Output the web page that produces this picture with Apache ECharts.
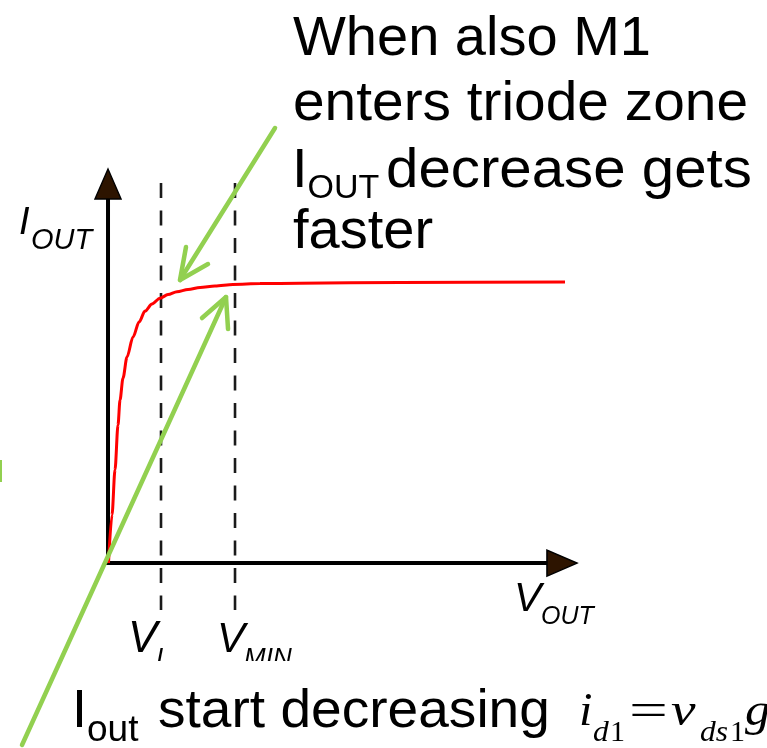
<!DOCTYPE html>
<html><head><meta charset="utf-8">
<script src="https://cdn.jsdelivr.net/npm/echarts@6/dist/echarts.min.js"></script>
<style>html,body{margin:0;padding:0;background:#fff}#c{width:767px;height:748px}</style>
</head><body><div id="c"></div>
<script>
// ---- data (arbitrary units: V_OUT on x, I_OUT on y; origin = axes crossing) ----
const voutExtent = [-2.303, 14.051];
const ioutExtent = [-4.707, 14.326];
const voutAxisLine = [[-0.043, 0], [9.9, 0]];
const ioutAxisLine = [[0, 0], [0, 9.9]];
const axisTipV = [9.680, 0];
const axisTipI = [0, 9.644];
const curveVout = [0.01, 0.085, 0.149, 0.213, 0.256, 0.320, 0.405, 0.533, 0.661, 0.789, 0.938, 1.109, 1.279, 1.471, 1.706, 1.962, 2.281, 2.665, 3.241, 4.094, 6.226, 9.744];
const curveIout = [0, 1.22, 2.37, 3.51, 4.15, 4.71, 5.24, 5.75, 6.13, 6.41, 6.59, 6.74, 6.83, 6.90, 6.96, 7.01, 7.05, 7.09, 7.11, 7.12, 7.14, 7.15];
const markerVout = [1.130, 2.708];          // V_I, V_MIN
const markerIoutSpan = [9.669, -1.196];     // dashed guide extent
const triodeArrowShaft = [[3.561, 11.069], [1.535, 7.201]];
const triodeArrowHead = [[1.663, 8.041], [1.535, 7.201], [2.132, 7.608]];
const startArrowShaft = [[-1.834, -4.631], [2.516, 6.768]];
const startArrowHead = [[2.004, 6.234], [2.516, 6.768], [2.559, 5.954]];
const edgeMark = [[-2.292, 2.621], [-2.292, 2.061]];

const GREEN = '#92d050';
const SANS = 'Liberation Sans';
const SERIF = 'Liberation Serif';

function txt(text, x, baseline, size, o) {
  o = o || {};
  const fam = o.family || SANS;
  const style = (o.italic ? 'italic ' : '') + size + 'px "' + fam + '"';
  return {
    type: 'text', x: x, y: baseline - 0.31 * size, z: o.z || 100,
    scaleX: o.sx || 1, scaleY: 1, silent: true,
    style: { text: text, font: style, fill: '#000', textAlign: 'left',
             verticalAlign: 'middle', textVerticalAlign: 'middle' }
  };
}

const graphics = [
  // top annotation
  txt('When also M1', 293, 57, 56),
  txt('enters triode zone', 293, 122, 56, {sx: 1.015}),
  txt('I', 292, 189, 56),
  txt('OUT', 307.5, 199, 34),
  txt('decrease gets', 386, 189, 56, {sx: 1.04}),
  txt('faster', 293, 250, 56),
  // axis labels
  txt('I', 19, 235, 38, {italic: true}),
  txt('OUT', 31, 250, 29, {italic: true}),
  txt('V', 514, 612, 41, {italic: true}),
  txt('OUT', 541, 625, 25, {italic: true}),
  txt('V', 128, 653, 44, {italic: true, z: 50}),
  txt('I', 156, 667, 26, {italic: true, z: 50}),
  txt('V', 217, 653, 42, {italic: true, z: 50}),
  txt('MIN', 244, 667, 26, {italic: true, z: 50}),
  // white band hiding bottom of labels
  { type: 'rect', z: 60, silent: true, shape: { x: 66, y: 661, width: 701, height: 87 }, style: { fill: '#fff' } },
  // bottom annotation
  txt('I', 72, 729, 54, {z: 110}),
  txt('out', 87, 742, 37, {z: 110}),
  txt('start decreasing', 158, 729, 54, {z: 110, sx: 1.02}),
  // formula
  txt('i', 579, 727, 46, {family: SERIF, italic: true, sx: 1.05, z: 110}),
  txt('d', 593, 742, 30, {family: SERIF, italic: true, sx: 1.05, z: 110}),
  txt('1', 610, 742, 30, {family: SERIF, sx: 1.0, z: 110}),
  txt('=', 629, 727, 46, {family: SERIF, sx: 1.5, z: 110}),
  txt('v', 671, 727, 46, {family: SERIF, italic: true, sx: 1.2, z: 110}),
  txt('ds', 700, 742, 30, {family: SERIF, italic: true, sx: 1.05, z: 110}),
  txt('1', 730, 742, 30, {family: SERIF, sx: 1.0, z: 110}),
  txt('g', 745, 727, 46, {family: SERIF, italic: true, sx: 1.1, z: 110})
];

function lineSeries(data, style, z) {
  return { type: 'line', data: data, symbol: 'none', clip: false, silent: true, z: z,
           lineStyle: style };
}

const series = [];
series.push(lineSeries(voutAxisLine, { color: '#000', width: 4 }, 2));
series.push(lineSeries(ioutAxisLine, { color: '#000', width: 4 }, 2));
markerVout.forEach(function (v) {
  series.push(lineSeries([[v, markerIoutSpan[0]], [v, markerIoutSpan[1]]],
    { color: '#1a1a1a', width: 2.6, type: [15, 12.5] }, 3));
});
const curve = lineSeries(curveVout.map(function (v, i) { return [v, curveIout[i]]; }),
  { color: '#ff0000', width: 3 }, 4);
curve.smooth = 0.3; curve.smoothMonotone = 'x';
series.push(curve);
const gStyle = { color: GREEN, width: 4.5, cap: 'round', join: 'round' };
series.push(lineSeries(triodeArrowShaft, gStyle, 80));
series.push(lineSeries(triodeArrowHead, gStyle, 80));
series.push(lineSeries(startArrowShaft, gStyle, 80));
series.push(lineSeries(startArrowHead, gStyle, 80));
series.push(lineSeries(edgeMark, { color: GREEN, width: 3 }, 80));
series.push({ type: 'scatter', clip: false, silent: true, z: 5, symbol: 'triangle',
  symbolSize: [26, 30],
  itemStyle: { color: '#2d1400', borderColor: '#000', borderWidth: 1.5, opacity: 1 },
  data: [{ value: axisTipI, symbolRotate: 0 }, { value: axisTipV, symbolRotate: -90 }] });

const chart = echarts.init(document.getElementById('c'), null, { renderer: 'canvas' });
chart.setOption({
  animation: false,
  backgroundColor: '#fff',
  grid: { left: 0, right: 0, top: 0, bottom: 0, containLabel: false, outerBoundsMode: 'none' },
  xAxis: { type: 'value', min: voutExtent[0], max: voutExtent[1], show: false,
    axisLine: { show: false }, axisTick: { show: false }, axisLabel: { show: false }, splitLine: { show: false } },
  yAxis: { type: 'value', min: ioutExtent[0], max: ioutExtent[1], show: false,
    axisLine: { show: false }, axisTick: { show: false }, axisLabel: { show: false }, splitLine: { show: false } },
  tooltip: { show: false },
  series: series,
  graphic: { elements: graphics }
});
</script>
</body></html>
